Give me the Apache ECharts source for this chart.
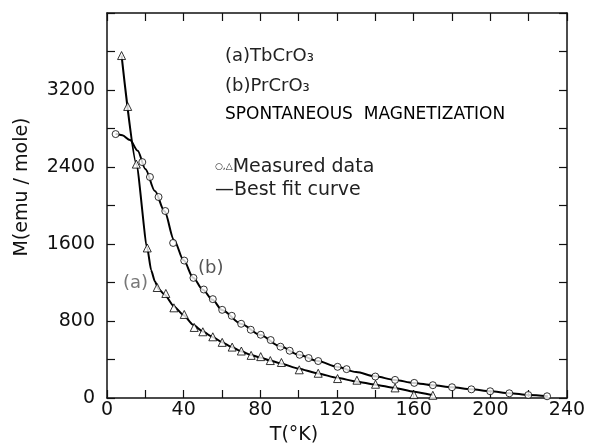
<!DOCTYPE html>
<html>
<head>
<meta charset="utf-8">
<script src="https://cdn.jsdelivr.net/npm/echarts@6/dist/echarts.min.js"></script>
<style>
  html, body { margin: 0; padding: 0; background: #fff; }
  #chart { width: 591px; height: 446px; }
</style>
</head>
<body>
<div id="chart"></div>
<script>
// (a) TbCrO3 measured points (triangles)
const tempA = [7.6, 10.8, 15.3, 21, 26.2, 30.7, 34.9, 40.3, 45.5, 50, 55.2, 60.1, 65.3, 70.1, 75.2, 80.2, 85.2, 91, 100.3, 110.2, 120.3, 130.4, 140.1, 150.3, 160.1, 170]
const magA = [3558, 3029, 2430, 1559, 1148, 1086, 937, 868, 733, 688, 636, 578, 529, 488, 443, 430, 389, 369, 293, 257, 202, 185, 143, 105, 35, 28]

// (b) PrCrO3 measured points (circles)
const tempB = [4.5, 18.4, 22.4, 26.9, 30.4, 34.5, 40.3, 45.1, 50.5, 55.2, 60.1, 65.1, 70, 75, 80.2, 85.4, 90.5, 95.3, 100.5, 105.2, 110.2, 120.3, 125, 140, 150.3, 160.3, 170, 180, 190.1, 199.9, 209.9, 219.8, 229.6]
const magB = [2742, 2451, 2296, 2088, 1943, 1611, 1428, 1248, 1127, 1027, 916, 854, 771, 709, 657, 602, 533, 491, 449, 415, 384, 324, 300, 223, 188, 157, 133, 112, 90, 70, 49, 31, 18]

// best fit curves
const fitTempA = [7.6, 15.3, 21, 23, 25, 27, 30, 35, 40, 45, 50, 55, 60, 65, 70, 75, 80, 85, 90, 100, 110, 120, 130, 140, 150, 160, 170]
const fitMagA = [3560, 2430, 1560, 1330, 1210, 1130, 1075, 950, 860, 760, 690, 635, 580, 530, 485, 448, 420, 390, 362, 305, 255, 210, 172, 138, 105, 66, 28]
const fitTempB = [4.5, 8, 12, 16, 20, 25, 30, 35, 40, 45, 50, 55, 60, 70, 80, 90, 100, 110, 120, 130, 140, 150, 160, 170, 180, 190, 200, 210, 220, 230]
const fitMagB = [2745, 2730, 2680, 2570, 2380, 2150, 1940, 1640, 1430, 1250, 1125, 1020, 915, 770, 655, 540, 450, 385, 325, 270, 225, 188, 157, 133, 112, 90, 70, 50, 32, 18]

const xTicks = [0, 40, 80, 120, 160, 200, 240]
const yTicks = [0, 800, 1600, 2400, 3200]

const FONT = '"DejaVu Sans", sans-serif'
const pair = (xs, ys) => xs.map((x, i) => [x, ys[i]])

const chart = echarts.init(document.getElementById('chart'))

const axisBase = {
  type: 'value',
  axisLine: { show: true, onZero: false, lineStyle: { color: '#111', width: 1.5 } },
  axisTick: { show: true, inside: true, length: 8, lineStyle: { color: '#111', width: 1.2 } },
  splitLine: { show: false }
}

const option = {
  animation: false,
  backgroundColor: '#fff',
  grid: { left: 107, right: 24, top: 13, bottom: 48 },
  xAxis: [
    {
      ...axisBase,
      min: 0, max: 240, interval: 20,
      axisLabel: {
        color: '#111', fontFamily: FONT, fontSize: 19, margin: 3,
        formatter: v => xTicks.includes(v) ? String(v) : ''
      }
    },
    { ...axisBase, position: 'top', min: 0, max: 240, interval: 20, axisLabel: { show: false } }
  ],
  yAxis: [
    {
      ...axisBase,
      min: 0, max: 4000, interval: 400,
      axisLabel: {
        color: '#111', fontFamily: FONT, fontSize: 19, margin: 12,
        formatter: v => yTicks.includes(v) ? String(v) : ''
      }
    },
    { ...axisBase, position: 'right', min: 0, max: 4000, interval: 400, axisLabel: { show: false } }
  ],
  series: [
    {
      type: 'line', data: pair(fitTempA, fitMagA), smooth: 0.2, smoothMonotone: 'x',
      symbol: 'none', lineStyle: { color: '#000', width: 2 }, z: 2
    },
    {
      type: 'line', data: pair(fitTempB, fitMagB), smooth: 0.3, smoothMonotone: 'x',
      symbol: 'none', lineStyle: { color: '#000', width: 2 }, z: 2
    },
    {
      type: 'scatter', data: pair(tempA, magA), symbol: 'triangle', symbolSize: 8,
      itemStyle: { color: '#fff', borderColor: '#000', borderWidth: 1 }, z: 3
    },
    {
      type: 'scatter', data: pair(tempB, magB), symbol: 'circle', symbolSize: 7,
      itemStyle: { color: '#fff', borderColor: '#000', borderWidth: 1 }, z: 3
    }
  ],
  graphic: [
    { type: 'text', x: 225, y: 56, style: { text: '(a)TbCrO₃', font: '18px ' + FONT, fill: '#222', verticalAlign: 'middle' } },
    { type: 'text', x: 225, y: 86, style: { text: '(b)PrCrO₃', font: '18px ' + FONT, fill: '#222', verticalAlign: 'middle' } },
    { type: 'text', x: 225, y: 115, style: { text: 'SPONTANEOUS  MAGNETIZATION', font: '17px ' + FONT, fill: '#000', verticalAlign: 'middle' } },
    {
      type: 'text', x: 215, y: 167,
      style: {
        text: '{s|○,△}{t|Measured data}', verticalAlign: 'middle', fill: '#222',
        rich: {
          s: { fontFamily: FONT, fontSize: 9, fill: '#222' },
          t: { fontFamily: FONT, fontSize: 19, fill: '#222' }
        }
      }
    },
    { type: 'text', x: 215, y: 190, style: { text: '—Best fit curve', font: '19px ' + FONT, fill: '#222', verticalAlign: 'middle' } },
    { type: 'text', x: 198, y: 268, style: { text: '(b)', font: '18px ' + FONT, fill: '#555', verticalAlign: 'middle' } },
    { type: 'text', x: 123, y: 283, style: { text: '(a)', font: '18px ' + FONT, fill: '#777', verticalAlign: 'middle' } },
    { type: 'text', x: 294, y: 435, style: { text: 'T(°K)', font: '19px ' + FONT, fill: '#111', align: 'center', verticalAlign: 'middle' } },
    {
      type: 'text', x: 22, y: 187, rotation: Math.PI / 2,
      style: { text: 'M(emu / mole)', font: '19px ' + FONT, fill: '#111', align: 'center', verticalAlign: 'middle' }
    }
  ]
}

chart.setOption(option)
</script>
</body>
</html>
